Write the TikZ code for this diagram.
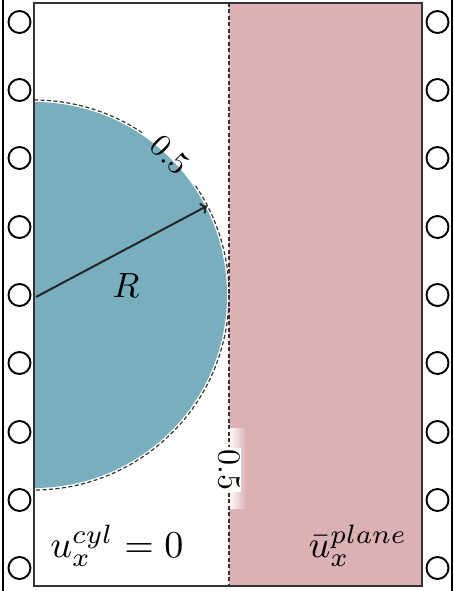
\documentclass[tikz,border=0pt]{standalone}
\usepackage{graphicx}
\usetikzlibrary{arrows.meta}
\definecolor{teal1}{HTML}{79AEBF}
\definecolor{pink1}{HTML}{DCB1B4}
\definecolor{edge}{HTML}{333333}
\tikzset{
  roller/.style={circle,draw=black,line width=1.9pt,minimum size=22pt,inner sep=0pt},
  wall/.style={line width=2.4pt,black},
  contourlbl/.style={inner sep=1pt},
  dashline/.style={line width=1.2pt,edge,dash pattern=on 4pt off 2.5pt}
}
\begin{document}
\begin{tikzpicture}[x=1pt,y=1pt]
\useasboundingbox (0,0) rectangle (454,591);
% pink region
\fill[pink1] (229,5) rectangle (422,588);
% half disc
\fill[teal1] (34,296) ++(-90:193) arc[start angle=-90,end angle=90,radius=193] -- cycle;
% fade near vertical label
\shade[left color=white,right color=pink1] (229,82) rectangle (246,162);
% dashed contour on cylinder
\draw[dashline] (34,296) ++(90:195) arc[start angle=90,end angle=56,radius=195];
\draw[dashline] (34,296) ++(34:195) arc[start angle=34,end angle=-90,radius=195];
\node[contourlbl,rotate=-45] (lbla) at (34+135.6,296+140.1) {\scalebox{3.2}{$0.5$}};
% vertical dashed line
\coordinate (vt) at (229,588);
\coordinate (vb) at (229,5);
\node[contourlbl,rotate=-90,fill=white,inner sep=2pt] (lblb) at (229,121) {\scalebox{3.2}{$0.5$}};
\draw[dashline] (vt) -- (lblb.west);
\draw[dashline] (lblb.east) -- (vb);
% box
\draw[edge,line width=1.8pt] (34,5) rectangle (422,588);
% walls
\draw[wall] (3,0) -- (3,591);
\draw[wall] (452,0) -- (452,591);
% rollers
\foreach \y [count=\i] in {22,90,158,227,295,363,432,500,568}{
  \node[roller] (l\i) at (19.5,591-\y) {};
  \node[roller] (r\i) at (437.5,591-\y) {};
}
% radius arrow
\coordinate (c0) at (36,294);
\coordinate (c1) at (207,385);
\draw[line width=2pt,black!85,-{To[length=6pt,width=12pt]}] (c0) -- (c1);
\node (R) at (126,305) {\scalebox{3.5}{$R$}};
% labels
\node (ucyl) at (117,45) {\scalebox{3.8}{$u_x^{cyl}=0$}};
\node (uplane) at (358,45) {\scalebox{3.8}{$\bar{u}_x^{plane}$}};
\end{tikzpicture}
\end{document}
